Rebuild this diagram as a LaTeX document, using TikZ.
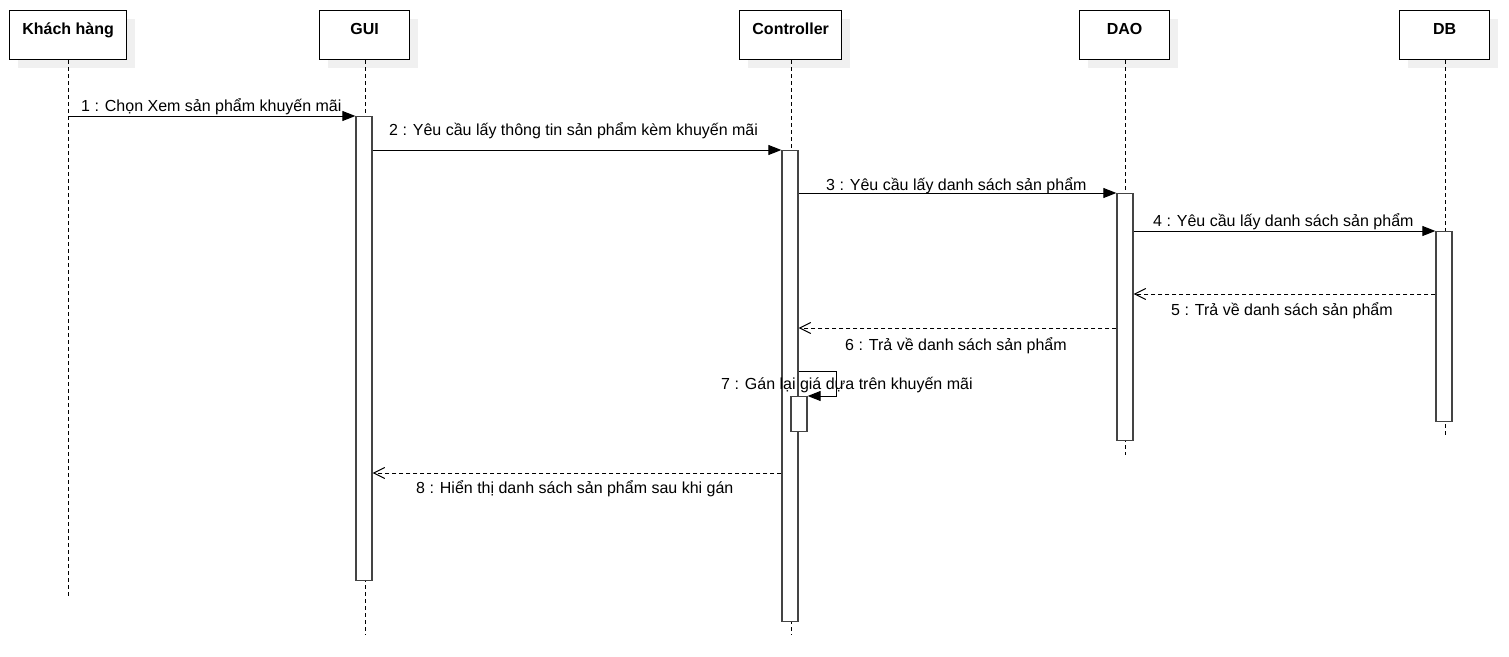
\documentclass[tikz,border=0pt]{standalone}
\usepackage{fontspec}
\setmainfont{Liberation Sans}
\usetikzlibrary{arrows.meta,shadows}
\definecolor{shadowgray}{RGB}{240,240,240}
\definecolor{actborder}{RGB}{68,68,68}
\begin{document}
\begin{tikzpicture}[x=1pt,y=-1pt,
  headbox/.style={draw=black, line width=1.3pt, fill=white, minimum height=49pt,
    minimum width=#1, inner sep=0pt, anchor=north west,
    general shadow={fill=shadowgray, shadow xshift=8pt, shadow yshift=-8pt}},
  headtxt/.style={font=\fontsize{16}{19}\selectfont\bfseries, anchor=base, inner sep=0pt},
  lifeline/.style={draw=black, line width=1pt, dash pattern=on 4pt off 3pt},
  act/.style={draw=actborder, line width=1.3pt, fill=white, minimum width=16pt,
    minimum height=#1, inner sep=0pt, anchor=north},
  msg/.style={draw=black, line width=1pt, -{Triangle[length=13pt,width=10pt]}},
  ret/.style={draw=black, line width=1pt, dash pattern=on 4pt off 3pt,
    -{Straight Barb[length=11pt,width=11pt]}},
  lbl/.style={font=\fontsize{16}{19}\selectfont, anchor=base west, inner sep=0pt}]
\useasboundingbox (0,0) rectangle (1509,656);
\fill[white] (0,0) rectangle (1509,656);

% participant heads
\node[headbox=117pt] (hK) at (9,10) {};
\node[headbox=90pt]  (hG) at (319,10) {};
\node[headbox=102pt] (hC) at (739,10) {};
\node[headbox=90pt]  (hD) at (1079,10) {};
\node[headbox=90pt]  (hB) at (1399,10) {};
\node[headtxt] at (hK.center |- 0,34) {Khách hàng};
\node[headtxt] at (hG.center |- 0,34) {GUI};
\node[headtxt] at (hC.center |- 0,34) {Controller};
\node[headtxt] at (hD.center |- 0,34) {DAO};
\node[headtxt] at (hB.center |- 0,34) {DB};

% lifeline ends
\coordinate (eK) at (68,597);
\coordinate (eG) at (365,635);
\coordinate (eC) at (791,635);
\coordinate (eD) at (1125,455);
\coordinate (eB) at (1445,438);

\draw[lifeline] (eK |- hK.south) -- (eK);
\draw[lifeline] (eG |- hG.south) -- (eG);
\draw[lifeline] (eC |- hC.south) -- (eC);
\draw[lifeline] (eD |- hD.south) -- (eD);
\draw[lifeline] (eB |- hB.south) -- (eB);

% activation bars
\node[act=464pt] (aG) at (364,116) {};
\node[act=471pt] (aC) at (790,150) {};
\node[act=247pt] (aD) at (1125,193) {};
\node[act=190pt] (aB) at (1444,231) {};
\node[act=35pt]  (aS) at (799,396) {};

% messages
\draw[msg] (eK |- aG.north) -- (aG.north west);
\draw[msg] (aG.east |- aC.north) -- (aC.north west);
\draw[msg] (aC.east |- aD.north) -- (aD.north west);
\draw[msg] (aD.east |- aB.north) -- (aB.north west);
\draw[ret] (aB.west |- 0,294) -- (aD.east |- 0,294);
\draw[ret] (aD.west |- 0,328) -- (aC.east |- 0,328);
\draw[msg] (aC.east |- 0,371) -- (836,371) |- (aS.north east);
\draw[ret] (aC.west |- 0,473) -- (aG.east |- 0,473);

% message labels
\node[lbl] at (81,111)   {1 : Chọn Xem sản phẩm khuyến mãi};
\node[lbl] at (389,135)  {2 : Yêu cầu lấy thông tin sản phẩm kèm khuyến mãi};
\node[lbl] at (826,190)  {3 : Yêu cầu lấy danh sách sản phẩm};
\node[lbl] at (1153,226) {4 : Yêu cầu lấy danh sách sản phẩm};
\node[lbl] at (1171,315) {5 : Trả về danh sách sản phẩm};
\node[lbl] at (845,350)  {6 : Trả về danh sách sản phẩm};
\node[lbl] at (721,389)  {7 : Gán lại giá dựa trên khuyến mãi};
\node[lbl] at (416,493)  {8 : Hiển thị danh sách sản phẩm sau khi gán};
\end{tikzpicture}
\end{document}
